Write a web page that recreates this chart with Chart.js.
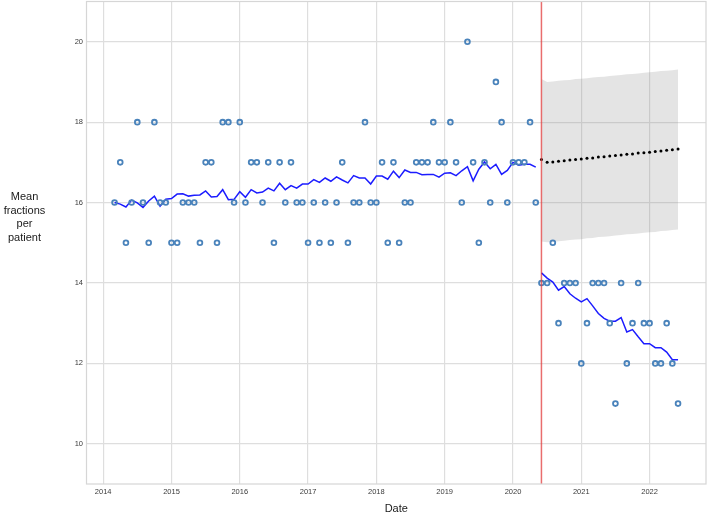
<!DOCTYPE html>
<html>
<head>
<meta charset="utf-8">
<script src="https://cdn.jsdelivr.net/npm/chart.js@4.4.1/dist/chart.umd.min.js"></script>
<style>
  html, body { margin: 0; padding: 0; background: #fff; }
</style>
</head>
<body>
<canvas id="chart" width="709" height="515"></canvas>
<script>
// observed monthly means, Mar 2014 .. May 2020 (before) and Jun 2020 .. Jun 2022 (after)
const observedPre = [
    16, 17, 15, 16, 18, 16, 15, 18, 16, 16,
    15, 15, 16, 16, 16, 15, 17, 17, 15, 18, 18, 16,
    18, 16, 17, 17, 16, 17, 15, 17, 16, 17, 16, 16,
    15, 16, 15, 16, 15, 16, 17, 15, 16, 16, 18, 16,
    16, 17, 15, 17, 15, 16, 16, 17, 17, 17, 18, 17,
    17, 18, 17, 16, 20, 17, 15, 17, 16, 19, 18, 16,
    17, 17, 17, 18, 16
];
const observedPost = [
    14, 14, 15, 13, 14, 14, 14,
    12, 13, 14, 14, 14, 13, 11, 14, 12, 13, 14, 13,
    13, 12, 12, 13, 12, 11
];

// fitted model values
const fittedPre = [
    16.00, 15.96, 15.89, 16.06, 15.99, 15.88, 16.04, 16.16, 15.91, 16.08,
    16.10, 16.21, 16.22, 16.16, 16.18, 16.19, 16.29, 16.14, 16.15, 16.32, 16.07, 16.08,
    16.27, 16.13, 16.32, 16.24, 16.26, 16.36, 16.29, 16.48, 16.32, 16.42, 16.36, 16.46,
    16.46, 16.57, 16.50, 16.61, 16.53, 16.64, 16.56, 16.49, 16.67, 16.61, 16.61, 16.46,
    16.66, 16.66, 16.58, 16.78, 16.62, 16.81, 16.75, 16.75, 16.69, 16.70, 16.70, 16.63,
    16.73, 16.74, 16.67, 16.79, 16.89, 16.54, 16.83, 17.01, 16.84, 16.95, 16.70, 16.80,
    17.00, 16.93, 16.95, 16.95, 16.88
];
const fittedPost = [
    14.25, 14.12, 14.02, 13.82, 13.91, 13.73, 13.62,
    13.53, 13.61, 13.43, 13.24, 13.12, 13.05, 13.05, 13.14, 12.78, 12.84, 12.66, 12.49,
    12.49, 12.39, 12.39, 12.28, 12.09, 12.09
];

// counterfactual projection and its interval
const cfMean = [
    17.07, 17.00, 17.01, 17.03, 17.04, 17.06, 17.07, 17.08, 17.10, 17.11, 17.13, 17.14, 17.16,
    17.17, 17.18, 17.20, 17.21, 17.23, 17.24, 17.25, 17.27, 17.28, 17.30, 17.31, 17.33
];
const cfUpper = [
    19.07, 19.00, 19.01, 19.03, 19.04, 19.05, 19.07, 19.08, 19.09, 19.11, 19.12, 19.13, 19.15,
    19.16, 19.17, 19.19, 19.20, 19.21, 19.23, 19.24, 19.25, 19.27, 19.28, 19.29, 19.31
];
const cfLower = [
    15.03, 15.01, 15.02, 15.04, 15.05, 15.07, 15.08, 15.09, 15.11, 15.12, 15.14, 15.15, 15.16,
    15.18, 15.19, 15.21, 15.22, 15.23, 15.25, 15.26, 15.27, 15.29, 15.30, 15.32, 15.33
];

const xTicks = [2014, 2015, 2016, 2017, 2018, 2019, 2020, 2021, 2022];
const yTicks = [10, 12, 14, 16, 18, 20];

// month starts as decimal years
function monthsFrom(year, month, n) {
    const out = [];
    for (let i = 0; i < n; i++) {
        const m = month - 1 + i;
        out.push(year + Math.floor(m / 12) + (m % 12) / 12);
    }
    return out;
}
const preDates = monthsFrom(2014, 3, observedPre.length);
const postDates = monthsFrom(2020, 6, observedPost.length);
const interventionDate = postDates[0];

const pts = (xs, ys) => ys.map((y, i) => ({ x: xs[i], y }));

const TEXT_FONT = '"Liberation Sans", Arial, sans-serif';

const extras = {
    id: "extras",
    afterDatasetsDraw(chart) {
        const { ctx, chartArea: a, scales } = chart;
        const xr = scales.x.getPixelForValue(interventionDate);
        ctx.save();
        ctx.strokeStyle = "rgba(225,60,60,0.75)";
        ctx.lineWidth = 1.5;
        ctx.beginPath();
        ctx.moveTo(xr, a.top);
        ctx.lineTo(xr, a.bottom);
        ctx.stroke();

        ctx.strokeStyle = "#d6d6d6";
        ctx.lineWidth = 1.2;
        ctx.strokeRect(a.left, a.top, a.right - a.left, a.bottom - a.top);

        ctx.fillStyle = "#1a1a1a";
        ctx.font = "11px " + TEXT_FONT;
        ctx.textAlign = "center";
        ctx.textBaseline = "alphabetic";
        ["Mean", "fractions", "per", "patient"].forEach((t, i) => {
            ctx.fillText(t, 24.5, 200 + i * 13.7);
        });
        ctx.textBaseline = "middle";
        ctx.fillText("Date", (a.left + a.right) / 2, 509);
        ctx.restore();
    }
};

new Chart(document.getElementById("chart"), {
    type: "line",
    data: {
        datasets: [
            {
                data: pts(preDates, observedPre), showLine: false, order: 0,
                pointRadius: 2.4, pointBorderWidth: 1.8,
                pointBorderColor: "#4a83bb", pointBackgroundColor: "rgba(0,0,0,0)"
            },
            {
                data: pts(postDates, observedPost), showLine: false, order: 0,
                pointRadius: 2.4, pointBorderWidth: 1.8,
                pointBorderColor: "#4a83bb", pointBackgroundColor: "rgba(0,0,0,0)"
            },
            {
                data: pts(preDates, fittedPre), order: 1,
                borderColor: "#1c1cff", borderWidth: 1.5, pointRadius: 0, tension: 0
            },
            {
                data: pts(postDates, fittedPost), order: 1,
                borderColor: "#1c1cff", borderWidth: 1.5, pointRadius: 0, tension: 0
            },
            {
                data: pts(postDates, cfMean), showLine: false, order: 2,
                pointRadius: 1.5, pointBorderWidth: 0, pointBackgroundColor: "#000"
            },
            {
                data: pts(postDates, cfLower), order: 3,
                borderWidth: 0, pointRadius: 0, fill: false
            },
            {
                data: pts(postDates, cfUpper), order: 3,
                borderWidth: 0, pointRadius: 0, fill: "-1",
                backgroundColor: "rgba(128,128,128,0.21)"
            }
        ]
    },
    options: {
        responsive: false,
        animation: false,
        devicePixelRatio: 1,
        layout: { autoPadding: false, padding: { top: 1.5, right: 3, left: 0, bottom: 0 } },
        plugins: { legend: { display: false }, tooltip: { enabled: false } },
        scales: {
            x: {
                type: "linear",
                min: 2013.756,
                max: 2022.826,
                afterBuildTicks: s => { s.ticks = xTicks.map(v => ({ value: v })); },
                afterFit: s => { s.height = 31; s.paddingLeft = 0; s.paddingRight = 0; },
                grid: { color: "#dedede", lineWidth: 1.2, drawTicks: false },
                border: { display: false },
                ticks: {
                    padding: 3,
                    color: "#3a3a3a",
                    font: { family: TEXT_FONT, size: 7.5 },
                    maxRotation: 0,
                    callback: v => String(v)
                }
            },
            y: {
                min: 9,
                max: 21,
                afterBuildTicks: s => { s.ticks = yTicks.map(v => ({ value: v })); },
                afterFit: s => { s.width = 86.5; s.paddingTop = 0; s.paddingBottom = 0; },
                grid: { color: "#dedede", lineWidth: 1.2, drawTicks: false },
                border: { display: false },
                ticks: {
                    padding: 3.5,
                    color: "#3a3a3a",
                    font: { family: TEXT_FONT, size: 7.5 },
                    callback: v => String(v)
                }
            }
        }
    },
    plugins: [extras]
});
</script>
</body>
</html>
